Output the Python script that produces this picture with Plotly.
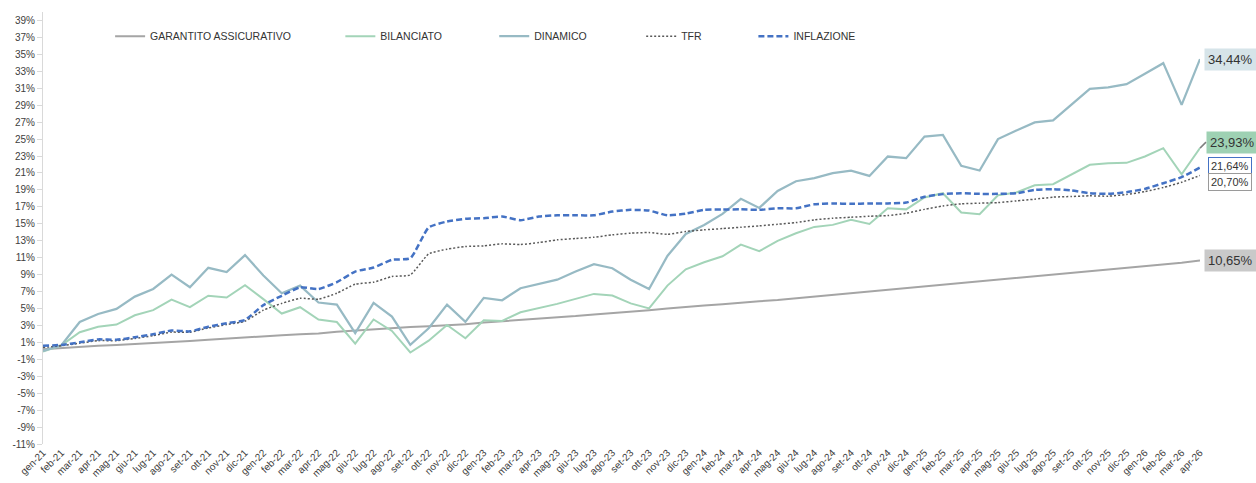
import plotly.graph_objects as go

months = ["gen", "feb", "mar", "apr", "mag", "giu", "lug", "ago", "set", "ott", "nov", "dic"]
categories = [f"{m}-{y}" for y in ["21", "22", "23", "24", "25"] for m in months] + ["gen-26", "feb-26", "mar-26", "apr-26"]

garantito = [0.2, 0.35, 0.5, 0.6, 0.7, 0.8, 0.9, 1.0, 1.15, 1.3, 1.45, 1.55, 1.7, 1.85, 1.95, 2.05,
             2.25, 2.4, 2.55, 2.65, 2.8, 2.9, 3.0, 3.15, 3.35, 3.5, 3.6, 3.75, 3.9, 4.1, 4.3, 4.45,
             4.6, 4.8, 5.0, 5.2, 5.35, 5.5, 5.7, 5.85, 6.0, 6.2, 6.35, 6.55, 6.75, 6.95, 7.15, 7.35,
             7.55, 7.75, 7.95, 8.15, 8.35, 8.55, 8.75, 8.95, 9.15, 9.35, 9.55, 9.75, 9.95, 10.15, 10.4, 10.65]
bilanciato = [-0.1, 0.65, 2.2, 2.85, 3.1, 4.2, 4.8, 6.05, 5.15, 6.5, 6.3, 7.75, 6.1, 4.4, 5.15, 3.7,
              3.4, 0.85, 3.7, 2.35, -0.2, 1.2, 3.06, 1.48, 3.6, 3.53, 4.55, 5.03, 5.54, 6.13, 6.72, 6.52,
              5.6, 5.0, 7.7, 9.63, 10.46, 11.16, 12.54, 11.76, 12.98, 13.88, 14.63, 14.87, 15.46, 14.98, 16.83, 16.7,
              18.1, 18.61, 16.33, 16.13, 18.37, 18.69, 19.55, 19.67, 20.78, 21.96, 22.15, 22.19, 22.94, 23.92, 20.85, 23.93]
dinamico = [0.0, 0.65, 3.4, 4.35, 4.95, 6.4, 7.3, 9.0, 7.5, 9.8, 9.3, 11.3, 8.9, 6.8, 7.7, 5.7,
            5.45, 2.1, 5.65, 4.04, 0.7, 2.66, 5.46, 3.41, 6.25, 5.97, 7.39, 7.9, 8.4, 9.36, 10.22, 9.75,
            8.4, 7.3, 11.2, 13.8, 14.86, 16.16, 17.94, 16.87, 18.88, 20.02, 20.38, 20.97, 21.28, 20.65, 22.94, 22.75,
            25.3, 25.5, 21.84, 21.29, 25.0, 26.0, 26.96, 27.2, 29.04, 30.93, 31.09, 31.48, 32.7, 33.96, 29.04, 34.44]
tfr = [0.4, 0.6, 0.9, 1.2, 1.2, 1.45, 1.8, 2.2, 2.2, 2.7, 3.1, 3.5, 4.8, 5.6, 6.2, 6.1,
       6.8, 7.86, 8.1, 8.77, 8.96, 11.44, 12.0, 12.31, 12.39, 12.63, 12.55, 12.78, 13.1, 13.26, 13.41, 13.69,
       13.89, 13.96, 13.76, 14.08, 14.28, 14.43, 14.59, 14.75, 14.94, 15.14, 15.46, 15.65, 15.77, 15.89, 15.97, 16.24,
       16.7, 17.1, 17.35, 17.43, 17.5, 17.7, 17.9, 18.14, 18.22, 18.3, 18.26, 18.45, 18.8, 19.28, 19.9, 20.70]
inflazione = [0.6, 0.7, 1.0, 1.35, 1.3, 1.6, 1.95, 2.4, 2.3, 2.85, 3.25, 3.65, 5.4, 6.5, 7.5, 7.3,
              8.1, 9.36, 9.83, 10.74, 10.93, 14.56, 15.26, 15.58, 15.66, 15.85, 15.42, 15.85, 16.0, 16.0, 16.0, 16.44,
              16.64, 16.56, 16.0, 16.2, 16.64, 16.68, 16.7, 16.64, 16.83, 16.83, 17.3, 17.4, 17.35, 17.4, 17.4, 17.5,
              18.2, 18.5, 18.6, 18.53, 18.53, 18.6, 19.0, 19.08, 18.93, 18.6, 18.53, 18.73, 19.12, 19.79, 20.5, 21.64]

y_ticks = list(range(-11, 40, 2))

series = [
    ("GARANTITO ASSICURATIVO", garantito, "#A5A5A5", 2, "solid", "linear", "legend"),
    ("BILANCIATO", bilanciato, "#A3D4B8", 2, "solid", "linear", "legend2"),
    ("DINAMICO", dinamico, "#97BAC4", 2.25, "solid", "linear", "legend3"),
    ("TFR", tfr, "#595959", 1.5, "2px,2px", "spline", "legend4"),
    ("INFLAZIONE", inflazione, "#4472C4", 2.5, "6px,3px", "spline", "legend5"),
]

fig = go.Figure()
for name, vals, color, w, dash, shape, lg in series:
    fig.add_trace(go.Scatter(
        x=categories, y=vals, name=name, mode="lines",
        line=dict(color=color, width=w, dash=dash, shape=shape, smoothing=0.5 if shape == "spline" else None),
        legend=lg,
    ))

FONT = "Liberation Sans, Arial, sans-serif"
legend_x = {"legend": 0.058, "legend2": 0.257, "legend3": 0.390, "legend4": 0.517, "legend5": 0.614}
leg_common = dict(y=0.944, yanchor="middle", xanchor="left", bgcolor="rgba(0,0,0,0)",
                  font=dict(family=FONT, size=10.5, color="#333333"), orientation="h")
layout_legends = {k: dict(x=v, **leg_common) for k, v in legend_x.items()}

last = categories[-1]
ann = [
    dict(x=last, y=dinamico[-1], text="34,44%", showarrow=False, xanchor="left", xshift=4,
         bgcolor="#D6E4E9", font=dict(family=FONT, size=13, color="#333333"), borderpad=3),
    dict(x=last, y=bilanciato[-1], text="23,93%", showarrow=True, arrowhead=0, arrowwidth=1.5,
         arrowcolor="#7F7F7F", ax=6, ay=-6, xanchor="left", yanchor="middle",
         bgcolor="#9ED1B3", font=dict(family=FONT, size=13, color="#333333"), borderpad=3),
    dict(x=last, y=inflazione[-1], text="21,64%", showarrow=False, xanchor="left", xshift=8, yshift=2,
         bgcolor="white", bordercolor="#4472C4", borderwidth=1, borderpad=2,
         font=dict(family=FONT, size=11, color="#333333")),
    dict(x=last, y=tfr[-1], text="20,70%", showarrow=False, xanchor="left", xshift=8, yshift=-7,
         bgcolor="white", bordercolor="#9A9A9A", borderwidth=1, borderpad=2,
         font=dict(family=FONT, size=11, color="#333333")),
    dict(x=last, y=garantito[-1], text="10,65%", showarrow=False, xanchor="left", xshift=4,
         bgcolor="#C9C9C9", font=dict(family=FONT, size=13, color="#333333"), borderpad=3),
]

fig.update_layout(
    width=1256, height=483,
    margin=dict(l=43, r=56, t=12, b=39),
    paper_bgcolor="white", plot_bgcolor="white",
    showlegend=True,
    annotations=ann,
    font=dict(family=FONT, size=10, color="#404040"),
    **layout_legends,
)
fig.update_xaxes(
    type="category", range=[0, len(categories) - 1], showgrid=False, zeroline=False,
    showline=False, tickangle=-45, tickfont=dict(family=FONT, size=10, color="#404040"),
    ticks="", automargin=False,
)
fig.update_yaxes(
    range=[-11, 40], tickvals=y_ticks, ticktext=[f"{v}%" for v in y_ticks],
    showgrid=False, zeroline=False, showline=True, linecolor="#D9D9D9", linewidth=1,
    ticks="outside", ticklen=5, tickcolor="#D9D9D9",
    tickfont=dict(family=FONT, size=10, color="#404040"), automargin=False,
)

fig.write_html("out.html", config={"displayModeBar": False},
               post_script="document.body.style.margin='0';document.body.style.overflow='hidden';")
